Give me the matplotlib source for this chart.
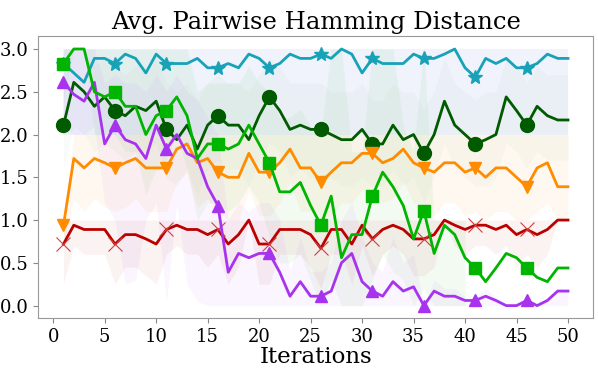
import matplotlib
matplotlib.use("Agg")
import matplotlib.pyplot as plt

plt.rcParams["font.family"] = ["DejaVu Serif"]

iterations = list(range(1, 51))

# mean curves
cyan = [2.83, 2.72, 2.61, 2.89, 2.89, 2.83, 2.94, 2.89, 2.72, 2.94,
        2.83, 2.83, 2.83, 2.89, 2.78, 2.78, 2.83, 2.78, 2.94, 2.89,
        2.78, 2.83, 2.94, 2.89, 2.89, 2.94, 2.89, 3.00, 2.94, 2.72,
        2.89, 2.83, 2.83, 2.83, 2.94, 2.89, 2.89, 2.94, 3.00, 2.78,
        2.67, 2.89, 2.83, 2.89, 2.78, 2.78, 2.83, 2.94, 2.89, 2.89]
dkgreen = [2.11, 2.61, 2.50, 2.33, 2.44, 2.28, 2.22, 2.33, 2.28, 2.39,
           2.06, 1.94, 2.11, 1.83, 2.11, 2.22, 2.11, 2.11, 1.94, 2.22,
           2.44, 2.28, 2.06, 2.11, 2.06, 2.06, 2.00, 1.94, 1.94, 2.06,
           1.89, 1.89, 2.11, 1.94, 2.00, 1.78, 2.00, 2.39, 2.11, 2.00,
           1.89, 1.94, 2.00, 2.44, 2.28, 2.11, 2.33, 2.22, 2.17, 2.17]
green = [2.83, 3.00, 3.00, 2.50, 2.44, 2.50, 2.33, 2.33, 2.00, 2.22,
         2.28, 2.44, 2.22, 1.72, 1.89, 1.89, 1.83, 1.89, 2.11, 1.89,
         1.67, 1.33, 1.33, 1.44, 1.17, 0.94, 1.28, 0.56, 0.83, 0.83,
         1.28, 1.56, 1.39, 1.17, 0.78, 1.11, 0.61, 0.94, 0.83, 0.56,
         0.44, 0.28, 0.44, 0.61, 0.56, 0.44, 0.33, 0.28, 0.44, 0.44]
orange = [0.94, 1.72, 1.61, 1.72, 1.67, 1.61, 1.67, 1.72, 1.61, 1.61,
          1.61, 1.83, 1.89, 1.67, 1.72, 1.56, 1.50, 1.50, 1.78, 1.56,
          1.56, 1.67, 1.83, 1.61, 1.61, 1.44, 1.56, 1.67, 1.67, 1.78,
          1.78, 1.67, 1.72, 1.83, 1.67, 1.61, 1.56, 1.67, 1.67, 1.56,
          1.61, 1.50, 1.61, 1.61, 1.50, 1.39, 1.61, 1.67, 1.39, 1.39]
red = [0.72, 0.94, 0.89, 0.89, 0.89, 0.72, 0.83, 0.83, 0.78, 0.72,
       0.89, 0.94, 0.89, 0.89, 0.83, 0.89, 0.72, 0.83, 1.00, 0.72,
       0.72, 0.89, 0.89, 0.89, 0.83, 0.67, 0.89, 0.89, 0.72, 0.94,
       0.78, 0.89, 0.94, 0.89, 0.78, 0.78, 0.83, 1.00, 0.94, 0.89,
       0.94, 0.94, 0.89, 0.94, 0.83, 0.89, 0.83, 0.89, 1.00, 1.00]
purple = [2.61, 2.47, 2.39, 2.61, 1.89, 2.11, 1.94, 1.89, 1.72, 2.11,
          1.83, 2.00, 1.78, 1.72, 1.39, 1.17, 0.39, 0.61, 0.56, 0.61,
          0.61, 0.39, 0.11, 0.28, 0.11, 0.11, 0.17, 0.50, 0.61, 0.28,
          0.17, 0.11, 0.28, 0.17, 0.22, 0.00, 0.17, 0.11, 0.11, 0.06,
          0.06, 0.11, 0.06, 0.00, 0.00, 0.06, 0.00, 0.06, 0.17, 0.17]

# spread bands (lower / upper)
cyan_lo = [2.0] * 50
cyan_hi = [3.0] * 50
dkgreen_lo = [1.6, 2.1, 2.0, 1.8, 1.9, 1.8, 1.7, 1.8, 1.8, 1.9,
              1.5, 1.4, 1.6, 1.3, 1.6, 1.7, 1.6, 1.6, 1.4, 1.7,
              1.9, 1.8, 1.5, 1.6, 1.5, 1.5, 1.5, 1.4, 1.4, 1.5,
              1.4, 1.4, 1.6, 1.4, 1.5, 1.2, 1.5, 1.9, 1.6, 1.5,
              1.4, 1.4, 1.5, 1.9, 1.8, 1.6, 1.8, 1.7, 1.7, 1.7]
dkgreen_hi = [2.6, 3.0, 3.0, 2.8, 2.9, 2.8, 2.7, 2.8, 2.8, 2.9,
              2.6, 2.5, 2.6, 2.4, 2.6, 2.7, 2.6, 2.6, 2.5, 2.7,
              2.9, 2.8, 2.6, 2.6, 2.6, 2.6, 2.5, 2.5, 2.5, 2.6,
              2.4, 2.4, 2.6, 2.5, 2.5, 2.3, 2.5, 2.9, 2.6, 2.5,
              2.4, 2.5, 2.5, 2.9, 2.8, 2.6, 2.8, 2.7, 2.7, 2.7]
green_lo = [2.4, 3.0, 3.0, 2.0, 2.0, 2.0, 1.8, 1.8, 1.3, 1.6,
            1.7, 2.0, 1.6, 1.0, 1.2, 1.2, 1.1, 1.2, 1.4, 1.2,
            0.8, 0.5, 0.5, 0.6, 0.3, 0.0, 0.3, 0.0, 0.0, 0.0,
            0.3, 0.6, 0.4, 0.3, 0.0, 0.2, 0.0, 0.0, 0.0, 0.0]
green_hi = [3.0, 3.0, 3.0, 3.0, 3.0, 3.0, 3.0, 3.0, 3.0, 3.0,
            3.0, 3.0, 3.0, 2.5, 2.6, 2.6, 2.6, 2.6, 2.8, 2.6,
            2.5, 2.2, 2.2, 2.3, 2.1, 2.0, 3.0, 3.0, 1.8, 1.8,
            3.0, 3.0, 3.0, 2.1, 1.8, 3.0, 1.0, 1.0, 1.0, 1.0]
orange_lo = [0.7, 1.25, 1.1, 1.25, 1.15, 1.1, 1.15, 1.25, 1.1, 1.1,
             1.1, 1.45, 1.55, 1.15, 1.25, 1.1, 1.0, 1.0, 1.35, 1.05,
             1.05, 1.2, 1.45, 1.1, 1.1, 1.0, 1.05, 1.2, 1.2, 1.35,
             1.35, 1.2, 1.25, 1.45, 1.2, 1.1, 1.05, 1.2, 1.2, 1.05,
             1.1, 1.0, 1.1, 1.1, 1.0, 1.0, 1.1, 1.2, 1.0, 1.0]
orange_hi = [1.0] + [2.0] * 49
red_lo = [0.25, 0.7, 0.6, 0.6, 0.6, 0.25, 0.45, 0.45, 0.35, 0.25,
          0.6, 0.7, 0.6, 0.6, 0.45, 0.6, 0.25, 0.45, 1.0, 0.25,
          0.25, 0.6, 0.6, 0.6, 0.45, 0.2, 0.6, 0.6, 0.25, 0.7,
          0.35, 0.6, 0.7, 0.6, 0.35, 0.35, 0.45, 1.0, 0.7, 0.6,
          0.7, 0.7, 0.6, 0.7, 0.45, 0.6, 0.45, 0.6, 1.0, 1.0]
red_hi = [1.0] * 50
purple_lo = [2.1, 2.0, 2.0, 2.1, 1.2, 1.0, 0.25, 0.3, 1.0, 1.2,
             0.05, 1.2, 0.25, 0.05, 0.0, 0.0, 0.0, 0.0, 0.0, 0.0,
             0.0, 0.0, 0.0, 0.0, 0.0, 0.0, 0.0, 0.0, 0.0, 0.0,
             0.0, 0.0, 0.0, 0.0, 0.0, 0.0, 0.0, 0.0, 0.0, 0.0,
             0.0, 0.0, 0.0, 0.0, 0.0, 0.0, 0.0, 0.0, 0.0, 0.0]
purple_hi = [3.0, 3.0, 3.0, 3.0, 2.6, 2.7, 2.6, 2.6, 2.5, 2.7,
             2.5, 2.7, 2.5, 2.4, 2.2, 2.0, 1.0, 1.2, 1.1, 1.2,
             1.2, 1.0, 0.4, 0.8, 0.4, 0.4, 0.5, 1.0, 1.2, 0.8,
             0.5, 0.4, 0.8, 0.5, 0.6, 0.0, 0.3, 0.2, 0.2, 0.1,
             0.1, 0.2, 0.1, 0.0, 0.0, 0.1, 0.0, 0.1, 0.2, 0.2]

fig, ax = plt.subplots(figsize=(5.98, 3.69), dpi=100)
fig.subplots_adjust(left=0.064, right=0.992, top=0.902, bottom=0.137)

ax.fill_between(iterations, cyan_lo, cyan_hi, color="#4a66e0", alpha=0.08, lw=0)
ax.fill_between(iterations, dkgreen_lo, dkgreen_hi, color="#006400", alpha=0.025, lw=0)
ax.fill_between(iterations[:40], green_lo, green_hi, color="#00b000", alpha=0.05, lw=0)
ax.fill_between(iterations, orange_lo, orange_hi, color="#ff8c00", alpha=0.06, lw=0)
ax.fill_between(iterations, red_lo, red_hi, color="#c00000", alpha=0.05, lw=0)
ax.fill_between(iterations, purple_lo, purple_hi, color="#a83cf0", alpha=0.05, lw=0)

ax.plot(iterations, cyan, color="#17a2b8", lw=2, marker="*", ms=10, markevery=5)
ax.plot(iterations, dkgreen, color="#005a00", lw=2, marker="o", ms=10, markevery=5)
ax.plot(iterations, orange, color="#ff8c00", lw=2, marker="v", ms=9, markevery=5)
ax.plot(iterations, red, color="#bb0000", lw=2, marker="x", ms=10, mew=0.8,
        mec="#d04040", markevery=5)
ax.plot(iterations, purple, color="#a833ee", lw=2, marker="^", ms=9, markevery=5)
ax.plot(iterations, green, color="#00b400", lw=2, marker="s", ms=9, markevery=5)

ax.set_xticks([0, 5, 10, 15, 20, 25, 30, 35, 40, 45, 50])
ax.set_yticks([0.0, 0.5, 1.0, 1.5, 2.0, 2.5, 3.0])
ax.tick_params(labelsize=13, color="#888888")
for s in ax.spines.values():
    s.set_color("#999999")
ax.set_xlabel("Iterations", fontsize=16.5, labelpad=0)
ax.set_title("Avg. Pairwise Hamming Distance", fontsize=17.5, pad=5)

fig.savefig("out.png", dpi=100)
